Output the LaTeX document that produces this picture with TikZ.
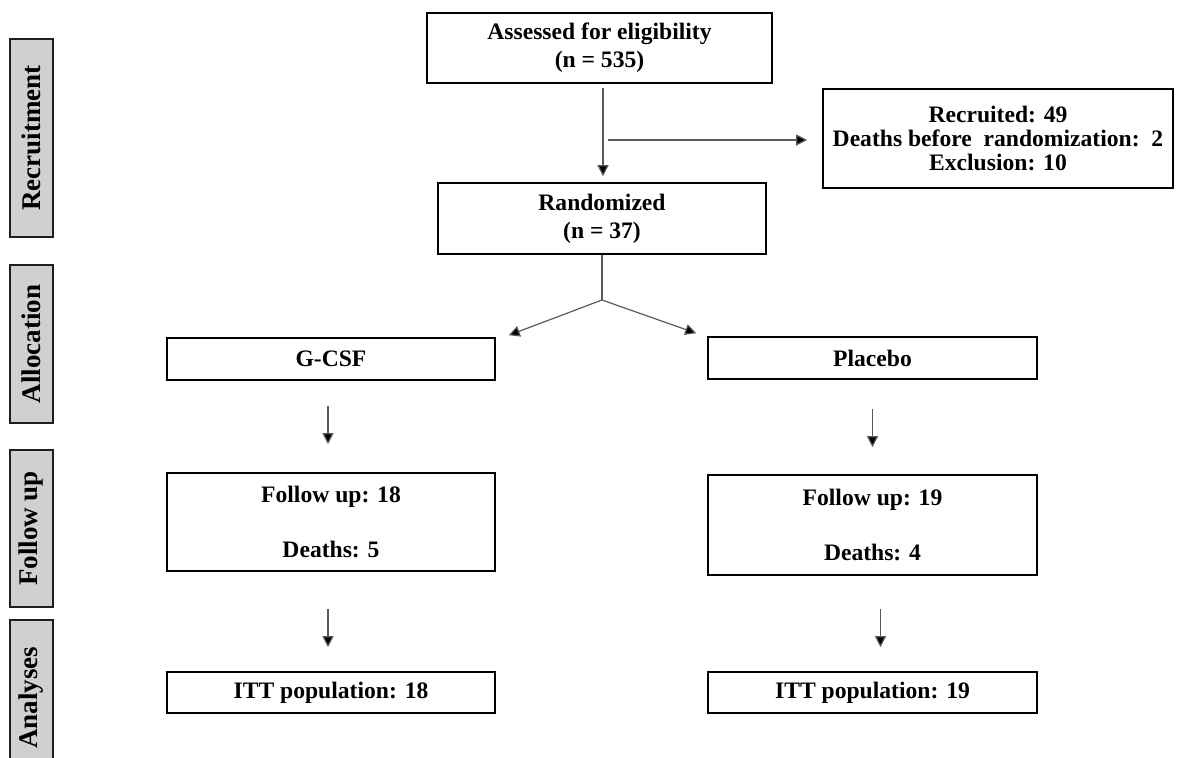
\documentclass[tikz,border=0pt]{standalone}
\usepackage{fontspec}
\setmainfont{Liberation Serif}
\usetikzlibrary{arrows.meta}

\begin{document}
\begin{tikzpicture}[x=0.5pt,y=0.5pt,yscale=-1,xscale=1,
	box/.style={draw=black,line width=0.8pt,inner sep=0pt,align=center,font=\fontsize{11.8}{14}\bfseries\selectfont},
	stage/.style={draw={rgb,255:red,30;green,30;blue,30},fill={rgb,255:red,208;green,208;blue,208},line width=0.8pt,rotate=90,inner sep=0pt,minimum height=21.5pt,font=\fontsize{13.5}{15}\bfseries\selectfont},
	link/.style={draw={rgb,255:red,90;green,90;blue,90},line width=0.6pt},
	arr/.style={link,-{Triangle[length=5.5pt,width=5.5pt,fill=black]}}]
	\useasboundingbox (0,0) rectangle (1190,757);
	
	% Stage labels
	\node [stage,minimum width=99pt] (recruit) at (31.5,138) {Recruitment};
	\node [stage,minimum width=79pt] (alloc) at (31.5,344) {Allocation};
	\node [stage,minimum width=78.5pt] (follow) at (31.5,528.5) {Follow up};
	\node [stage,minimum width=77.5pt] (analyse) at (31.5,697.5) {Analyses};
	
	% Boxes
	\node [box,minimum width=172.5pt,minimum height=35pt] (assess) at (599.5,48) {Assessed for eligibility\\(n = 535)};
	\node [box,minimum width=175pt,minimum height=49.5pt,font=\fontsize{11.8}{12}\bfseries\selectfont] (excl) at (998,138.5) {Recruited: 49\\Deaths before\ \ randomization:\ \ 2\\Exclusion: 10};
	\node [box,minimum width=164pt,minimum height=35.5pt] (rand) at (602,218.5) {Randomized\\(n = 37)};
	\node [box,minimum width=164pt,minimum height=21pt] (gcsf) at (331,359) {G-CSF};
	\node [box,minimum width=164.5pt,minimum height=21pt] (plac) at (872.5,358) {Placebo};
	\node [box,minimum width=164pt,minimum height=49pt] (fu1) at (331,522) {Follow up: 18\\[13.5pt]Deaths: 5};
	\node [box,minimum width=164.5pt,minimum height=50pt] (fu2) at (872.5,525) {Follow up: 19\\[13.5pt]Deaths: 4};
	\node [box,minimum width=164pt,minimum height=20.5pt] (itt1) at (331,692.5) {ITT population: 18};
	\node [box,minimum width=164.5pt,minimum height=20.5pt] (itt2) at (872.5,692.5) {ITT population: 19};
	
	% Connectors
	\coordinate (split) at (603,140);
	\coordinate (fork) at (602,300);
	\coordinate (tipL) at ([xshift=6.5pt,yshift=-1pt]gcsf.north east);
	\coordinate (tipR) at ([xshift=-5.5pt,yshift=-1.5pt]plac.north west);
	\draw [arr,shorten <=2pt,shorten >=3pt] (assess.south -| split) -- (rand.north -| split);
	\draw [arr,shorten <=2.5pt,shorten >=7.5pt] (split) -- (split -| excl.west);
	\draw [link] (rand.south) -- (fork);
	\draw [arr] (fork) -- (tipL);
	\draw [arr] (fork) -- (tipR);
	\draw [arr,shorten <=12.5pt,shorten >=14pt] ([xshift=-1.5pt]gcsf.south) -- ([xshift=-1.5pt]fu1.north);
	\draw [arr,shorten <=14.5pt,shorten >=13.5pt] (plac.south) -- (fu2.north);
	\draw [arr,shorten <=18.5pt,shorten >=12pt] ([xshift=-1.5pt]fu1.south) -- ([xshift=-1.5pt]itt1.north);
	\draw [arr,shorten <=16.5pt,shorten >=12pt] ([xshift=4pt]fu2.south) -- ([xshift=4pt]itt2.north);
	
\end{tikzpicture}
\end{document}
